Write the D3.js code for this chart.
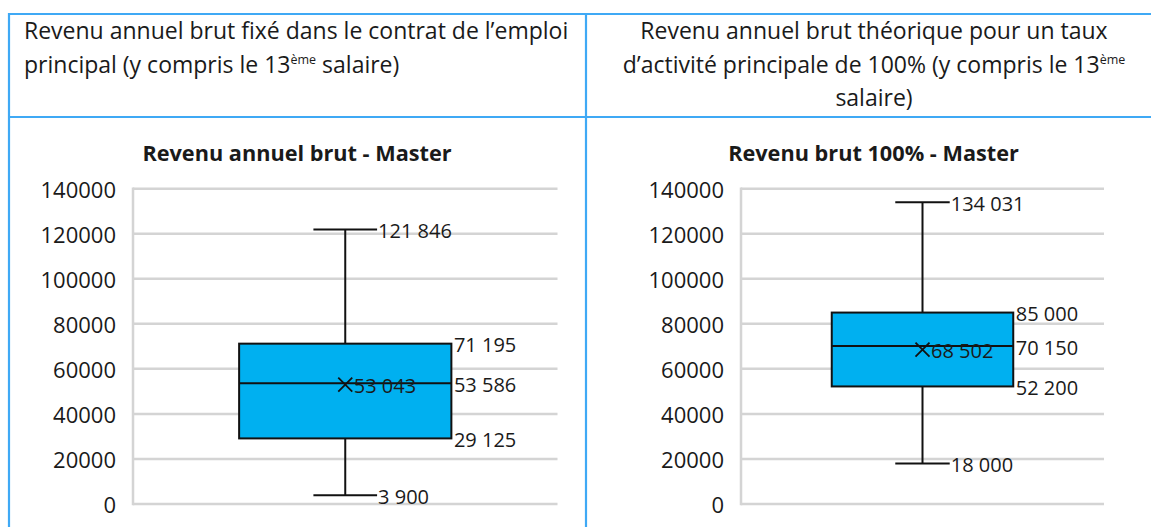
<!DOCTYPE html>
<html><head><meta charset="utf-8">
<script src="https://cdn.jsdelivr.net/npm/d3@7"></script>
<style>
html,body{margin:0;padding:0;background:#fff;}
svg{display:block;}
text{font-family:"Open Sans",sans-serif;fill:#1a1a1a;}
</style></head>
<body><svg id="c" width="1151" height="527"></svg>
<script>
// ---- data ----
const categories = ["Master"];
const statNames = ["min", "q1", "median", "q3", "max", "mean"];
const annualValues = [3900, 29125, 53586, 71195, 121846, 53043];
const fullTimeValues = [18000, 52200, 70150, 85000, 134031, 68502];
const yTicks = [0, 20000, 40000, 60000, 80000, 100000, 120000, 140000];
const chartTitles = ["Revenu annuel brut - Master", "Revenu brut 100% - Master"];
const headerLeft = [["Revenu annuel brut fixé dans le contrat de l’emploi"], ["principal (y compris le 13", "ème", " salaire)"]];
const headerRight = [["Revenu annuel brut théorique pour un taux"], ["d’activité principale de 100% (y compris le 13", "ème", ""], ["salaire)"]];

const svg = d3.select("#c");
svg.append("rect").attr("width",1151).attr("height",527).attr("fill","#fff");

const blue = "#3FA9F5";
// table borders
const tb = svg.append("g").attr("stroke", blue).attr("stroke-width", 2.2);
tb.append("line").attr("x1",8).attr("x2",1151).attr("y1",14).attr("y2",14);
tb.append("line").attr("x1",8).attr("x2",1151).attr("y1",117).attr("y2",117);
tb.append("line").attr("x1",9).attr("x2",9).attr("y1",13).attr("y2",527);
tb.append("line").attr("x1",586).attr("x2",586).attr("y1",13).attr("y2",527);

function headerLines(lines, x, anchor, y0, dy) {
  lines.forEach((parts, i) => {
    const t = svg.append("text").attr("x", x).attr("y", y0 + i*dy)
      .attr("text-anchor", anchor).style("font-size","23px");
    parts.forEach((p, j) => {
      if (j === 1) t.append("tspan").text(p).attr("dy", -9).style("font-size","12.5px");
      else if (j === 2) t.append("tspan").text(p).attr("dy", 9);
      else t.append("tspan").text(p);
    });
  });
}
headerLines(headerLeft, 24, "start", 39, 34);
headerLines(headerRight, 874, "middle", 39, 33.5);

const fmt = d3.formatLocale({decimal: ",", thousands: " ", grouping: [3], currency: ["", ""]}).format(",d");

function boxChart(values, title, x0, x1, titleX) {
  const v = {}; statNames.forEach((k,i)=> v[k] = values[i]);
  const y = d3.scaleLinear().domain([0, 140000]).range([504, 188.7]);
  const x = d3.scaleBand().domain(categories).range([x0, x1]).paddingInner(0).paddingOuter(0.5);
  const g = svg.append("g");
  // title
  g.append("text").attr("x", titleX).attr("y", 161).attr("text-anchor","middle")
    .style("font-weight","700").style("font-size","21.7px").text(title);
  // gridlines
  g.selectAll(".grid").data(yTicks).join("line")
    .attr("x1", x0).attr("x2", x1).attr("y1", d=>y(d)).attr("y2", d=>y(d))
    .attr("stroke", "#d4d4d4").attr("stroke-width", 2.5);
  g.append("line").attr("x1", x0).attr("x2", x0).attr("y1", y(140000)-1.2).attr("y2", y(0)+1.2)
    .attr("stroke", "#d4d4d4").attr("stroke-width", 2.5);
  // axis labels
  const ax = d3.axisLeft(y).tickValues(yTicks).tickFormat(d3.format("d")).tickSize(0).tickPadding(17);
  const axg = g.append("g").attr("transform", `translate(${x0},0)`).call(ax);
  axg.select(".domain").remove();
  axg.selectAll("text").style("font-size","22px").attr("fill","#1a1a1a").attr("dy","0.38em")
    .style("font-family","'Open Sans',sans-serif");
  const c = categories[0];
  const cx = x(c) + x.bandwidth()/2;
  const bw = x.bandwidth();
  const capW = bw * 0.3;
  // whisker
  g.append("line").attr("x1", cx).attr("x2", cx).attr("y1", y(v.max)).attr("y2", y(v.min))
    .attr("stroke","#111").attr("stroke-width",2);
  [v.max, v.min].forEach(val => {
    g.append("line").attr("x1", cx - capW/2).attr("x2", cx + capW/2).attr("y1", y(val)).attr("y2", y(val))
      .attr("stroke","#111").attr("stroke-width",2);
  });
  // box
  g.append("rect").attr("x", x(c)).attr("width", bw).attr("y", y(v.q3)).attr("height", y(v.q1)-y(v.q3))
    .attr("fill","#00B0F0").attr("stroke","#111").attr("stroke-width",2);
  g.append("line").attr("x1", x(c)).attr("x2", x(c)+bw).attr("y1", y(v.median)).attr("y2", y(v.median))
    .attr("stroke","#111").attr("stroke-width",2);
  // mean marker
  const m = 7;
  g.append("path").attr("d", `M${cx-m},${y(v.mean)-m}L${cx+m},${y(v.mean)+m}M${cx-m},${y(v.mean)+m}L${cx+m},${y(v.mean)-m}`)
    .attr("stroke","#111").attr("stroke-width",1.8).attr("fill","none");
  // labels
  const lab = (val, lx) => g.append("text").attr("x", lx).attr("y", y(val)+1.5).attr("dy","0.36em")
    .style("font-size","20px").text(fmt(val));
  lab(v.max, cx + capW/2 + 1);
  lab(v.min, cx + capW/2 + 1);
  lab(v.q3, x(c)+bw+2.5);
  lab(v.median, x(c)+bw+2.5);
  lab(v.q1, x(c)+bw+2.5);
  lab(v.mean, cx + m + 1.5);
}
boxChart(annualValues, chartTitles[0], 133, 557.5, 297);
boxChart(fullTimeValues, chartTitles[1], 741, 1104, 873.5);
</script></body></html>
